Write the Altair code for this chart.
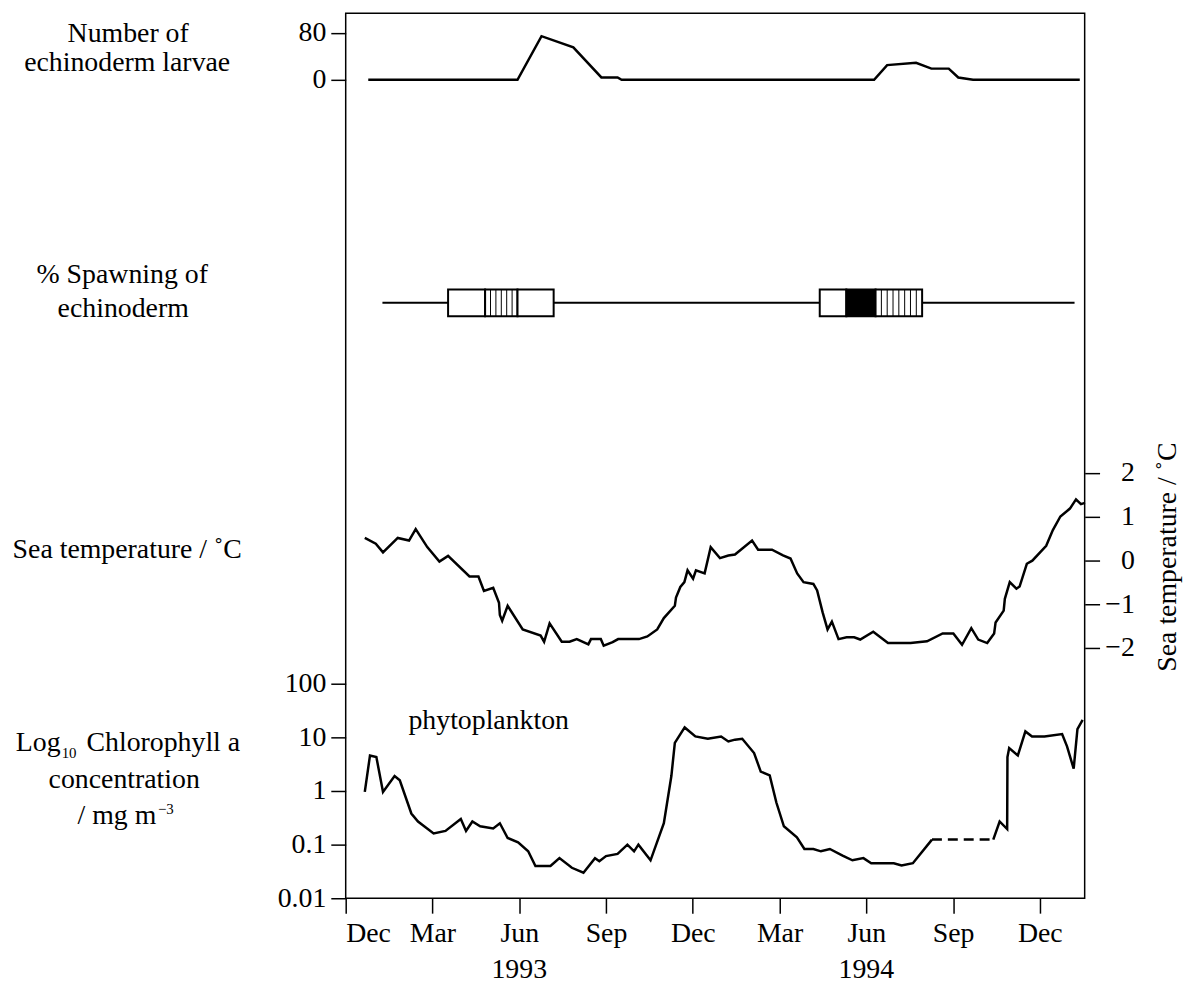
import json
import altair as alt
import numpy as np
import pandas as pd

FONT = "Liberation Serif"

# ---------------- data (x = months since 1 Dec 1992) ----------------
x_tick_months = [0, 3, 6, 9, 12, 15, 18, 21, 24]
x_tick_labels = ["Dec", "Mar", "Jun", "Sep", "Dec", "Mar", "Jun", "Sep", "Dec"]
year_months = [6, 18]
year_labels = ["1993", "1994"]

larvae_month = [0.78, 5.94, 6.77, 7.87, 8.84, 9.40, 9.54, 18.27, 18.72, 19.72,
                20.25, 20.85, 21.18, 21.69, 25.38]
larvae_count = [0, 0, 74, 55, 4, 4, 0, 0, 25, 29, 19, 19, 4, 0, 0]

spawn_line_start = [1.27]
spawn_line_end = [25.2]
spawn_seg_start = [3.54, 4.82, 5.94, 16.39, 17.31, 18.32]
spawn_seg_end = [4.82, 5.94, 7.19, 17.31, 18.32, 19.93]
spawn_seg_kind = ["open", "hatched", "open", "open", "solid", "hatched"]

temp_month = [0.66, 1.04, 1.29, 1.80, 2.19, 2.42, 2.82, 3.24, 3.54, 4.28, 4.59, 4.78,
              5.10, 5.30, 5.33, 5.41, 5.60, 6.12, 6.74, 6.86, 7.05, 7.47, 7.74, 7.99,
              8.39, 8.48, 8.82, 8.92, 9.23, 9.42, 10.14, 10.43, 10.77, 11.00, 11.38,
              11.42, 11.57, 11.71, 11.82, 12.01, 12.11, 12.41, 12.62, 12.94, 13.23,
              13.46, 14.05, 14.26, 14.74, 15.12, 15.38, 15.61, 15.83, 16.17, 16.30,
              16.49, 16.66, 16.81, 17.04, 17.32, 17.58, 17.79, 18.24, 18.75, 19.53,
              20.10, 20.64, 21.01, 21.31, 21.63, 21.87, 22.18, 22.42, 22.47, 22.75,
              22.79, 22.96, 23.19, 23.30, 23.55, 23.74, 24.22, 24.45, 24.71, 25.04,
              25.25, 25.42, 25.56]
temp_c = [0.51, 0.38, 0.18, 0.51, 0.45, 0.71, 0.30, -0.03, 0.10, -0.37, -0.37, -0.70,
          -0.63, -0.97, -1.25, -1.38, -1.04, -1.58, -1.72, -1.86, -1.44, -1.86, -1.86,
          -1.80, -1.92, -1.80, -1.80, -1.95, -1.87, -1.80, -1.80, -1.74, -1.58, -1.32,
          -1.04, -0.85, -0.61, -0.50, -0.23, -0.42, -0.23, -0.30, 0.30, 0.05, 0.11,
          0.13, 0.45, 0.24, 0.24, 0.11, 0.04, -0.30, -0.50, -0.54, -0.69, -1.19,
          -1.58, -1.40, -1.80, -1.76, -1.76, -1.81, -1.63, -1.89, -1.89, -1.85, -1.67,
          -1.67, -1.93, -1.55, -1.81, -1.89, -1.67, -1.42, -1.15, -0.88, -0.50, -0.65,
          -0.60, -0.08, -0.01, 0.33, 0.69, 1.00, 1.18, 1.39, 1.28, 1.31]

chl_month = [0.66, 0.84, 1.06, 1.29, 1.69, 1.87, 2.27, 2.50, 3.04, 3.45, 3.98, 4.16,
             4.38, 4.65, 5.10, 5.33, 5.60, 5.96, 6.31, 6.56, 7.08, 7.39, 7.82, 8.22,
             8.62, 8.77, 9.00, 9.40, 9.74, 9.97, 10.12, 10.54, 11.00, 11.26, 11.38,
             11.72, 12.09, 12.52, 12.98, 13.23, 13.46, 13.71, 14.12, 14.35, 14.66,
             14.89, 15.15, 15.60, 15.86, 16.17, 16.43, 16.74, 17.18, 17.52, 17.90,
             18.17, 18.95, 19.22, 19.61, 20.27, 22.39, 22.61, 22.87, 22.88, 22.94,
             23.24, 23.50, 23.73, 24.16, 24.77, 24.94, 25.17, 25.30, 25.48]
chl_value = [0.96, 4.6, 4.3, 0.96, 1.9, 1.58, 0.38, 0.27, 0.162, 0.18, 0.30, 0.18,
             0.27, 0.22, 0.20, 0.25, 0.133, 0.11, 0.075, 0.040, 0.040, 0.056, 0.037,
             0.030, 0.056, 0.049, 0.061, 0.067, 0.10, 0.075, 0.10, 0.051, 0.25, 1.9,
             7.9, 15.3, 10.4, 9.4, 10.4, 8.4, 9.06, 9.4, 5.1, 2.3, 1.95, 0.61, 0.22,
             0.137, 0.083, 0.083, 0.075, 0.083, 0.0625, 0.051, 0.056, 0.045, 0.045,
             0.041, 0.045, 0.124, 0.124, 0.27, 0.195, 4.3, 6.3, 4.6, 12.9, 10.4, 10.4,
             11.5, 6.8, 2.6, 14.3, 21.2]
chl_gap_month = [20.27, 22.39]
chl_gap_value = [0.124, 0.124]

# ---------------- tables ----------------
larvae_df = pd.DataFrame({"month": larvae_month, "count": larvae_count})
temp_df = pd.DataFrame({"month": temp_month, "temp": temp_c})
chl_df = pd.DataFrame({"month": chl_month, "chl": chl_value})
chl_df["seg"] = np.where(chl_df["month"] <= chl_gap_month[0], "a", "b")
gap_df = pd.DataFrame({"month": chl_gap_month, "chl": chl_gap_value})
spawn_line_df = pd.DataFrame({"m0": spawn_line_start, "m1": spawn_line_end})
seg_df = pd.DataFrame({"m0": spawn_seg_start, "m1": spawn_seg_end, "kind": spawn_seg_kind})
hatch_x = []
for s, e, k in zip(spawn_seg_start, spawn_seg_end, spawn_seg_kind):
    if k == "hatched":
        n = max(2, int(round((e - s) / 0.19)))
        hatch_x.extend(np.linspace(s, e, n + 1)[1:-1].tolist())
hatch_df = pd.DataFrame({"month": hatch_x})
year_df = pd.DataFrame({"month": year_months, "label": year_labels})

# ---------------- scales / axes ----------------
W, H = 744, 891
xscale = alt.Scale(domain=[0, 25.55], nice=False, zero=False)
xaxis = alt.Axis(values=x_tick_months, labelExpr=f"{json.dumps(x_tick_labels)}[round(datum.value/3)]",
                 title=None, labelPadding=7, labelBaseline="top", orient="bottom")


def X(field):
    return alt.X(f"{field}:Q", scale=xscale, axis=xaxis)


larvae_scale = alt.Scale(domain=[0, 80], range=[67, 19.5], nice=False, zero=False)
spawn_scale = alt.Scale(domain=[0, 1], range=[305, 278], nice=False, zero=False)
temp_scale = alt.Scale(domain=[-2, 2], range=[638.9, 462.5], nice=False, zero=False)
chl_scale = alt.Scale(type="log", domain=[0.01, 100], range=[891, 675], nice=False)

larvae = alt.Chart(larvae_df).mark_line(color="black", strokeWidth=2.5).encode(
    x=X("month"),
    y=alt.Y("count:Q", scale=larvae_scale,
            axis=alt.Axis(orient="left", values=[0, 80], title=None, format="d")),
)

spawn_line = alt.Chart(spawn_line_df).mark_rule(color="black", strokeWidth=2).encode(
    x=X("m0"), x2="m1",
    y=alt.YDatum(0.5, scale=spawn_scale, axis=None),
)
spawn_boxes = alt.Chart(seg_df).mark_rect(stroke="black", strokeWidth=2).encode(
    x=X("m0"), x2="m1",
    y=alt.YDatum(0, scale=spawn_scale, axis=None), y2=alt.Y2Datum(1),
    fill=alt.Fill("kind:N", scale=alt.Scale(domain=["open", "hatched", "solid"],
                                            range=["white", "white", "black"]), legend=None),
)
spawn_hatch = alt.Chart(hatch_df).mark_rule(color="black", strokeWidth=1).encode(
    x=X("month"),
    y=alt.YDatum(0, scale=spawn_scale, axis=None), y2=alt.Y2Datum(1),
)

temp = alt.Chart(temp_df).mark_line(color="black", strokeWidth=2.5).encode(
    x=X("month"),
    y=alt.Y("temp:Q", scale=temp_scale,
            axis=alt.Axis(orient="right", values=[-2, -1, 0, 1, 2], format="d",
                          labelAlign="right", labelPadding=35,
                          title="Sea temperature / ˚C", titleAngle=270, titleX=91, titleY=547,
                          titleAlign="center", titleBaseline="alphabetic",
                          titleFont=FONT, titleFontSize=28, titleFontWeight="normal",
                          titleColor="black")),
)

chl = alt.Chart(chl_df).mark_line(color="black", strokeWidth=2.5).encode(
    x=X("month"),
    y=alt.Y("chl:Q", scale=chl_scale,
            axis=alt.Axis(orient="left", values=[0.01, 0.1, 1, 10, 100], format="~g", title=None)),
    detail="seg:N",
)
chl_gap = alt.Chart(gap_df).mark_line(color="black", strokeWidth=2.5, strokeDash=[10, 6]).encode(
    x=X("month"),
    y=alt.Y("chl:Q", scale=chl_scale, axis=None),
)

years = alt.Chart(year_df).mark_text(font=FONT, fontSize=28, color="black", baseline="alphabetic").encode(
    x=X("month"), y=alt.value(971), text="label:N",
)

dummy = pd.DataFrame({"a": [0]})


def label(text, x, y, size=28, align="center"):
    return alt.Chart(dummy).mark_text(text=text, font=FONT, fontSize=size, color="black",
                                      align=align, baseline="alphabetic").encode(
        x=alt.value(x), y=alt.value(y))


texts = [
    label("Number of", -219, 29),
    label("echinoderm larvae", -220, 58),
    label("% Spawning of", -225, 272),
    label("echinoderm", -224, 306),
    label("Sea temperature / ˚C", -220, 548),
    label("Log", -287, 743, align="right"),
    label("10", -286, 750, size=15, align="left"),
    label("Chlorophyll a", -261, 743, align="left"),
    label("concentration", -223, 780),
    label("/ mg m", -270, 816, align="left"),
    label("−3", -189, 806, size=15, align="left"),
    label("phytoplankton", 144, 721),
]

chart = alt.layer(
    spawn_line, spawn_boxes, spawn_hatch, larvae, temp, chl, chl_gap, years, *texts
).resolve_scale(y="independent").properties(
    width=W, height=H,
    autosize=alt.AutoSizeParams(type="none"),
    padding={"left": 340, "top": 2, "right": 99, "bottom": 82},
).configure_view(
    stroke="black", strokeWidth=1.5
).configure_axis(
    labelFont=FONT, labelFontSize=28, labelColor="black", tickColor="black",
    tickWidth=1.5, tickSize=15, domain=False, grid=False, labelPadding=5,
)

chart.save("out.html", embed_options={"renderer": "svg", "actions": False})
